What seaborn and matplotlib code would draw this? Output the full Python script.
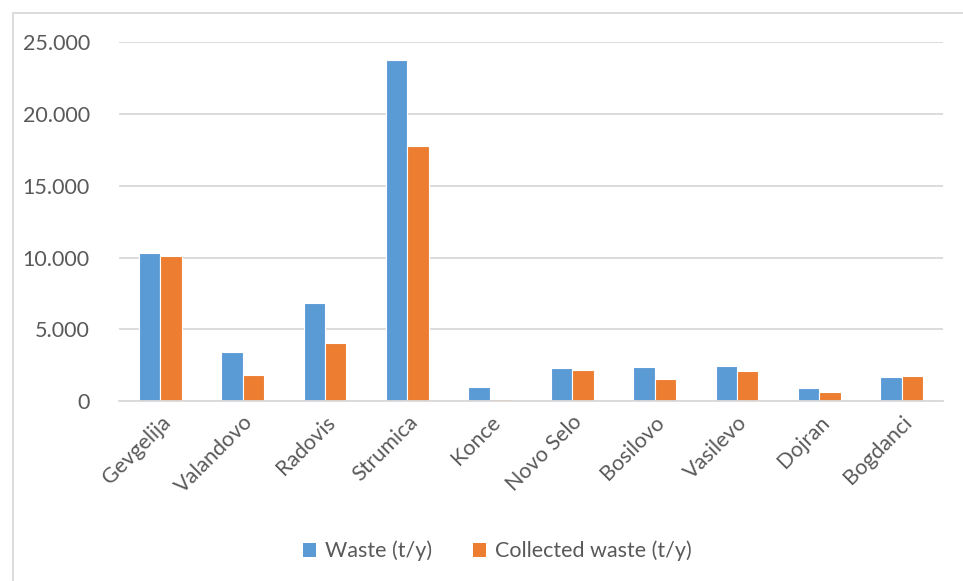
import matplotlib
matplotlib.use("Agg")
import matplotlib.pyplot as plt
from matplotlib.lines import Line2D
from matplotlib.patches import Patch
from matplotlib.ticker import FuncFormatter
import seaborn as sns
import pandas as pd

municipalities = ["Gevgelija", "Valandovo", "Radovis", "Strumica", "Konce",
                  "Novo Selo", "Bosilovo", "Vasilevo", "Dojran", "Bogdanci"]
waste = [10300, 3400, 6850, 23750, 950, 2300, 2400, 2420, 930, 1680]
collected = [10100, 1780, 4050, 17780, 120, 2180, 1540, 2080, 620, 1740]
series_names = ["Waste (t/y)", "Collected waste (t/y)"]
y_ticks = [0, 5000, 10000, 15000, 20000, 25000]

df = pd.DataFrame({
    "Municipality": municipalities * 2,
    "Value": waste + collected,
    "Series": [series_names[0]] * len(waste) + [series_names[1]] * len(collected),
})

sns.set_theme(style="white")
plt.rcParams["font.family"] = ["Lato", "DejaVu Sans"]

BLUE = "#5B9BD5"
ORANGE = "#ED7D31"
TEXT = "#595959"
GRID = "#D9D9D9"
FS = 15.5

fig = plt.figure(figsize=(9.63, 5.81), dpi=100)
ax = fig.add_axes([119 / 963, 1 - 401 / 581, (943 - 119) / 963, (401 - 42.3) / 581])

sns.barplot(data=df, x="Municipality", y="Value", hue="Series",
            palette=[BLUE, ORANGE], saturation=1, width=0.52, edgecolor="white",
            linewidth=0.8, ax=ax, legend=False)

ax.set_ylim(0, 25000)
ax.set_xlim(-0.5, len(municipalities) - 0.5)
ax.set_yticks(y_ticks)
ax.yaxis.set_major_formatter(FuncFormatter(lambda v, p: f"{int(v):,}".replace(",", ".")))
ax.grid(axis="y", color=GRID, linewidth=1.3)
ax.set_axisbelow(True)
for side in ["top", "right", "left"]:
    ax.spines[side].set_visible(False)
ax.spines["bottom"].set_color(GRID)
ax.spines["bottom"].set_linewidth(1.3)
ax.set_xlabel("")
ax.set_ylabel("")
ax.tick_params(axis="both", length=0, colors=TEXT, labelsize=FS)
ax.tick_params(axis="y", pad=21)
ax.tick_params(axis="x", pad=8)
for lbl in ax.get_xticklabels():
    lbl.set_rotation(45)
    lbl.set_ha("right")
    lbl.set_rotation_mode("anchor")

handles = [Patch(facecolor=BLUE, edgecolor="none"), Patch(facecolor=ORANGE, edgecolor="none")]
leg = fig.legend(handles, series_names, loc="center", bbox_to_anchor=(497 / 963, 1 - 551 / 581),
                 ncol=2, frameon=False, fontsize=FS, handlelength=0.62, handleheight=0.62,
                 handletextpad=0.4, columnspacing=1.9)
for t in leg.get_texts():
    t.set_color(TEXT)

# chart frame edges (top and left)
fig.add_artist(Line2D([13 / 963, 1], [1 - 13 / 581, 1 - 13 / 581], color=GRID, linewidth=1.3,
                      transform=fig.transFigure))
fig.add_artist(Line2D([13 / 963, 13 / 963], [0, 1 - 13 / 581], color=GRID, linewidth=1.3,
                      transform=fig.transFigure))

fig.savefig("out.png", dpi=100)
